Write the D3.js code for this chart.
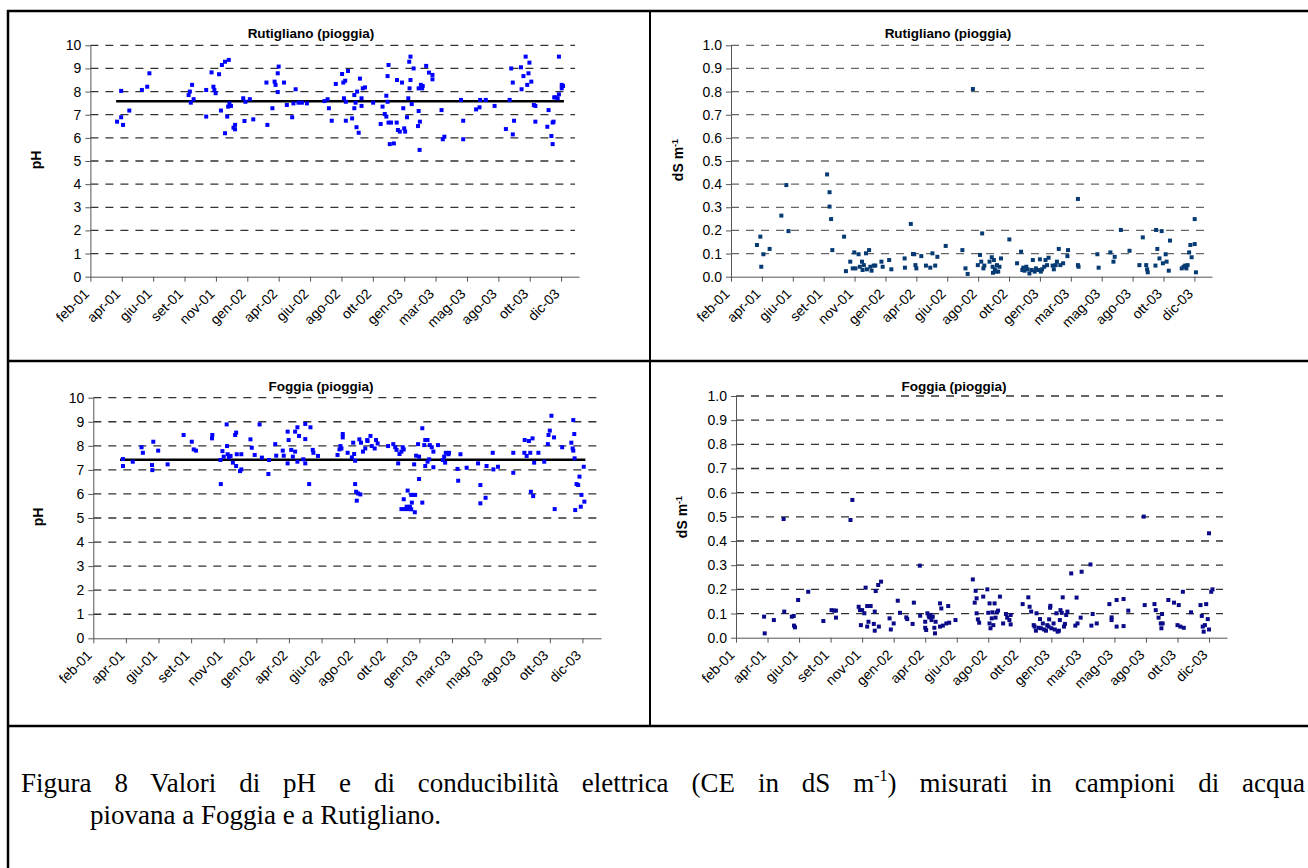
<!DOCTYPE html>
<html>
<head>
<meta charset="utf-8">
<script src="https://d3js.org/d3.v7.min.js"></script>
<style>
  body { margin: 0; background: #fff; }
  svg { display: block; }
  .axis text { font-family: "Liberation Sans", Arial, sans-serif; font-size: 14px; fill: #000; }
  .axis path, .axis line { stroke: #555; }
  .title { font-family: "Liberation Sans", Arial, sans-serif; font-weight: bold; font-size: 13.5px; }
  .ylab { font-family: "Liberation Sans", Arial, sans-serif; font-weight: bold; font-size: 14px; }
  .caption { font-family: "Liberation Serif", "Times New Roman", serif; font-size: 27px; }
</style>
</head>
<body>
<script>
// tick labels on the x axis (one every 2-3 months)
var monthLabels = ["feb-01","apr-01","giu-01","set-01","nov-01","gen-02","apr-02","giu-02",
                   "ago-02","ott-02","gen-03","mar-03","mag-03","ago-03","ott-03","dic-03"];
var phTicks = [0,1,2,3,4,5,6,7,8,9,10];
var ceTicks = [0,0.1,0.2,0.3,0.4,0.5,0.6,0.7,0.8,0.9,1.0];

// samples: [position along the x axis in tick units, value]
var rutiglianoPH = [
 [0.85,6.70],[0.98,6.89],[0.98,8.03],[1.04,6.56],[1.24,7.18],[1.64,8.07],[1.81,8.21],[1.88,8.79],
 [3.13,7.85],[3.17,8.00],[3.20,7.52],[3.24,8.29],[3.29,7.67],[3.69,8.07],[3.69,6.92],[3.86,8.83],
 [3.92,8.21],[3.95,8.07],[3.99,7.93],[4.10,8.75],[4.16,7.18],[4.19,9.15],[4.29,9.29],[4.29,6.20],
 [4.36,6.92],[4.41,9.37],[4.39,7.35],[4.43,7.49],[4.48,7.38],[4.56,6.44],[4.61,6.56],[4.61,6.37],
 [4.87,7.71],[4.91,6.73],[4.94,7.56],[5.08,7.67],[5.19,6.80],[5.61,8.39],[5.64,6.56],[5.80,7.28],
 [5.87,8.43],[5.90,8.29],[5.97,8.79],[6.00,9.08],[5.97,7.98],[6.17,8.39],[6.26,7.42],[6.43,6.89],
 [6.47,7.49],[6.54,8.10],[6.63,7.52],[6.74,7.52],[6.90,7.49],[7.46,7.59],[7.56,7.67],[7.60,7.28],
 [7.69,6.74],[7.82,8.33],[8.02,8.76],[8.06,8.39],[8.08,7.71],[8.12,8.47],[8.14,7.56],[8.14,6.74],
 [8.21,8.89],[8.34,6.84],[8.41,7.28],[8.41,7.85],[8.45,7.52],[8.48,6.46],[8.50,8.00],[8.55,6.22],
 [8.59,8.56],[8.64,7.38],[8.64,7.71],[8.68,8.14],[8.75,8.18],[9.01,7.52],[9.25,6.60],[9.31,7.35],
 [9.38,7.03],[9.43,7.82],[9.43,6.92],[9.47,8.67],[9.50,9.15],[9.47,7.56],[9.50,6.66],[9.54,5.73],
 [9.58,6.66],[9.67,5.76],[9.77,8.50],[9.76,6.66],[9.80,6.34],[9.86,6.27],[9.93,8.39],[9.97,7.28],
 [10.00,6.41],[10.03,6.27],[10.09,6.89],[10.13,7.71],[10.16,9.29],[10.20,9.51],[10.17,8.14],[10.20,8.50],
 [10.24,7.46],[10.30,9.00],[10.44,6.51],[10.46,8.14],[10.46,7.16],[10.50,6.70],[10.49,5.48],[10.53,8.29],
 [10.57,8.14],[10.59,8.24],[10.70,9.11],[10.79,8.82],[10.90,8.72],[10.90,8.53],[11.19,7.20],[11.23,5.94],
 [11.28,6.05],[11.81,7.64],[11.88,6.74],[11.88,5.94],[12.29,7.23],[12.40,7.32],[12.42,7.64],[12.60,7.64],
 [12.88,7.38],[13.24,6.38],[13.36,7.64],[13.41,9.00],[13.46,8.39],[13.46,6.15],[13.50,6.74],[13.72,9.05],
 [13.74,8.10],[13.80,8.67],[13.87,9.51],[13.92,8.29],[13.96,8.79],[13.99,9.25],[14.05,8.43],[14.13,7.42],
 [14.18,7.38],[14.18,6.70],[14.56,6.48],[14.60,7.20],[14.69,6.08],[14.73,5.73],[14.73,6.66],[14.76,6.70],
 [14.78,7.75],[14.82,7.75],[14.89,7.71],[14.93,7.88],[14.93,9.51],[15.02,8.14],[15.02,8.29],[15.06,8.24]
];

var rutiglianoCE = [
 [0.84,0.137],[0.95,0.173],[0.98,0.043],[1.05,0.097],[1.25,0.120],[1.63,0.264],[1.79,0.396],[1.86,0.197],
 [3.11,0.442],[3.19,0.365],[3.19,0.303],[3.24,0.249],[3.28,0.115],[3.66,0.173],[3.72,0.024],[3.86,0.065],
 [3.94,0.036],[3.99,0.105],[4.03,0.036],[4.13,0.097],[4.17,0.043],[4.24,0.065],[4.26,0.029],[4.30,0.050],
 [4.37,0.101],[4.40,0.032],[4.47,0.115],[4.51,0.043],[4.55,0.026],[4.62,0.048],[4.67,0.048],[4.87,0.065],
 [4.91,0.043],[5.12,0.072],[5.19,0.032],[5.62,0.079],[5.63,0.039],[5.82,0.228],[5.89,0.098],[5.93,0.097],
 [5.97,0.050],[6.00,0.036],[6.16,0.089],[6.31,0.048],[6.45,0.039],[6.52,0.101],[6.61,0.048],[6.68,0.086],
 [6.95,0.133],[7.49,0.115],[7.59,0.036],[7.66,0.012],[7.83,0.811],[7.99,0.050],[8.06,0.094],[8.10,0.065],
 [8.13,0.187],[8.17,0.036],[8.20,0.048],[8.37,0.065],[8.44,0.084],[8.47,0.043],[8.48,0.017],[8.51,0.072],
 [8.54,0.032],[8.58,0.022],[8.61,0.050],[8.65,0.022],[8.69,0.043],[8.74,0.079],[9.01,0.161],[9.26,0.058],
 [9.39,0.108],[9.43,0.029],[9.46,0.039],[9.50,0.026],[9.56,0.043],[9.60,0.032],[9.66,0.014],[9.73,0.029],
 [9.77,0.072],[9.83,0.022],[9.87,0.036],[9.94,0.029],[10.00,0.075],[10.03,0.022],[10.07,0.032],[10.14,0.043],
 [10.18,0.072],[10.23,0.050],[10.28,0.082],[10.41,0.048],[10.45,0.032],[10.51,0.050],[10.55,0.065],[10.61,0.120],
 [10.66,0.050],[10.75,0.058],[10.89,0.089],[10.91,0.115],[11.23,0.336],[11.23,0.050],[11.25,0.043],[11.86,0.097],
 [11.90,0.039],[12.28,0.105],[12.38,0.065],[12.42,0.086],[12.62,0.202],[12.90,0.112],[13.22,0.050],[13.33,0.170],
 [13.44,0.050],[13.47,0.032],[13.49,0.019],[13.74,0.048],[13.76,0.202],[13.80,0.120],[13.87,0.079],[13.94,0.197],
 [13.98,0.058],[14.07,0.097],[14.10,0.065],[14.17,0.026],[14.21,0.156],[14.59,0.036],[14.65,0.043],[14.70,0.048],
 [14.74,0.036],[14.78,0.050],[14.83,0.105],[14.87,0.137],[14.91,0.084],[15.01,0.141],[15.01,0.249],[15.05,0.019]
];

var foggiaPH = [
 [0.91,7.45],[0.91,7.16],[1.21,7.34],[1.48,7.94],[1.52,7.71],[1.80,7.20],[1.81,6.99],[1.84,8.17],
 [1.99,7.80],[2.28,7.23],[2.77,8.45],[3.02,8.17],[3.08,7.85],[3.15,7.80],[3.64,8.31],[3.65,8.45],
 [3.90,7.41],[3.91,6.41],[3.96,7.78],[4.00,7.55],[4.09,8.89],[4.10,7.99],[4.12,7.65],[4.16,7.52],
 [4.21,7.58],[4.28,7.30],[4.35,8.45],[4.38,8.55],[4.38,7.16],[4.40,7.65],[4.50,6.95],[4.54,7.02],
 [4.54,7.65],[4.82,8.27],[4.86,7.92],[4.95,7.62],[5.10,8.89],[5.17,7.51],[5.37,6.83],[5.39,7.41],
 [5.58,8.07],[5.61,7.59],[5.81,7.80],[5.84,7.59],[5.96,8.59],[5.99,8.24],[5.96,7.27],[6.07,7.83],
 [6.12,7.55],[6.19,8.59],[6.19,7.76],[6.26,8.77],[6.26,7.34],[6.31,8.41],[6.44,7.44],[6.50,8.91],
 [6.50,8.28],[6.50,7.27],[6.62,6.41],[6.66,8.77],[6.73,7.83],[6.75,7.71],[6.89,7.58],[7.49,7.62],
 [7.55,7.85],[7.58,7.99],[7.61,7.89],[7.65,8.49],[7.65,8.35],[7.80,7.71],[7.93,7.52],[7.97,8.13],
 [8.00,7.66],[8.03,7.38],[8.03,6.41],[8.06,6.09],[8.08,5.72],[8.12,6.02],[8.19,5.98],[8.16,8.27],
 [8.21,8.13],[8.27,7.76],[8.34,7.89],[8.40,8.24],[8.41,8.20],[8.50,8.41],[8.54,7.99],[8.63,7.89],
 [8.67,8.24],[8.72,8.10],[9.04,7.99],[9.20,8.07],[9.26,7.94],[9.30,7.83],[9.35,7.27],[9.39,7.66],
 [9.45,7.76],[9.49,7.94],[9.52,7.85],[9.45,5.37],[9.52,5.78],[9.56,5.37],[9.61,5.47],[9.64,5.37],
 [9.64,6.14],[9.71,5.47],[9.75,5.96],[9.77,5.64],[9.75,5.36],[9.80,5.96],[9.84,7.23],[9.86,5.24],
 [9.87,5.96],[9.90,7.59],[9.96,8.07],[9.99,7.55],[9.99,6.62],[10.09,8.73],[10.09,5.64],[10.15,8.03],
 [10.18,8.24],[10.18,7.16],[10.25,7.34],[10.25,8.24],[10.30,7.44],[10.32,8.03],[10.38,7.94],[10.43,7.76],
 [10.43,7.11],[10.57,8.03],[10.72,7.41],[10.76,7.55],[10.79,7.30],[10.81,7.71],[10.89,7.65],[10.91,7.71],
 [11.17,7.04],[11.19,6.55],[11.26,7.65],[11.45,7.09],[11.80,7.27],[11.87,6.37],[11.87,5.61],[12.03,5.84],
 [12.06,7.16],[12.25,7.71],[12.27,7.02],[12.41,7.13],[12.88,7.71],[12.88,6.88],[13.22,7.71],[13.23,8.24],
 [13.29,7.58],[13.36,8.20],[13.40,7.71],[13.47,8.31],[13.42,6.09],[13.49,5.91],[13.52,7.30],[13.65,7.71],
 [13.83,7.34],[13.94,8.07],[13.96,8.45],[14.00,8.63],[14.13,8.35],[14.15,5.37],[14.05,9.25],[14.38,7.94],
 [14.66,8.13],[14.72,9.07],[14.70,7.89],[14.72,7.80],[14.75,8.49],[14.76,7.48],[14.78,5.33],[14.82,6.41],
 [14.87,6.37],[14.91,6.72],[14.95,5.47],[14.97,5.96],[15.04,7.13],[15.06,5.68]
];

var foggiaCE = [
 [0.89,0.087],[0.91,0.018],[1.20,0.073],[1.51,0.491],[1.53,0.108],[1.77,0.087],[1.83,0.090],[1.84,0.050],
 [1.87,0.043],[1.97,0.156],[2.29,0.190],[2.77,0.069],[3.03,0.114],[3.11,0.112],[3.17,0.083],[3.17,0.112],
 [3.63,0.487],[3.69,0.570],[3.89,0.128],[3.93,0.114],[3.96,0.052],[4.00,0.114],[4.07,0.101],[4.11,0.207],
 [4.16,0.131],[4.16,0.046],[4.20,0.066],[4.27,0.131],[4.37,0.057],[4.40,0.108],[4.40,0.029],[4.43,0.193],
 [4.51,0.218],[4.53,0.046],[4.60,0.232],[4.87,0.080],[4.91,0.034],[5.00,0.059],[5.13,0.153],[5.20,0.103],
 [5.40,0.084],[5.43,0.077],[5.60,0.057],[5.64,0.145],[5.83,0.298],[5.84,0.091],[6.00,0.041],[6.03,0.032],
 [6.00,0.066],[6.07,0.101],[6.11,0.091],[6.13,0.084],[6.17,0.094],[6.20,0.073],[6.24,0.087],[6.29,0.041],
 [6.31,0.018],[6.33,0.066],[6.47,0.046],[6.47,0.142],[6.51,0.121],[6.56,0.050],[6.67,0.059],[6.73,0.131],
 [6.76,0.062],[6.96,0.073],[7.51,0.241],[7.57,0.145],[7.60,0.194],[7.63,0.163],[7.63,0.101],[7.67,0.076],
 [7.71,0.062],[7.84,0.170],[7.97,0.200],[8.00,0.103],[8.04,0.142],[8.04,0.059],[8.07,0.039],[8.11,0.080],
 [8.13,0.105],[8.16,0.052],[8.20,0.142],[8.23,0.083],[8.27,0.105],[8.31,0.112],[8.37,0.170],[8.47,0.059],
 [8.56,0.098],[8.60,0.083],[8.67,0.073],[8.71,0.094],[8.71,0.055],[9.09,0.139],[9.27,0.167],[9.31,0.128],
 [9.36,0.108],[9.44,0.052],[9.47,0.046],[9.51,0.029],[9.53,0.101],[9.60,0.041],[9.64,0.077],[9.67,0.039],
 [9.73,0.059],[9.77,0.034],[9.83,0.029],[9.87,0.052],[9.91,0.046],[9.93,0.076],[9.96,0.124],[9.97,0.132],
 [10.00,0.039],[10.07,0.059],[10.11,0.034],[10.16,0.101],[10.20,0.025],[10.24,0.029],[10.27,0.073],[10.29,0.114],
 [10.33,0.103],[10.36,0.167],[10.40,0.046],[10.43,0.057],[10.47,0.094],[10.51,0.108],[10.63,0.266],[10.76,0.050],
 [10.80,0.166],[10.83,0.059],[10.93,0.083],[10.96,0.273],[11.24,0.303],[11.27,0.050],[11.31,0.098],[11.44,0.059],
 [11.84,0.139],[11.91,0.084],[11.91,0.073],[12.07,0.156],[12.07,0.046],[12.29,0.160],[12.29,0.048],[12.44,0.112],
 [12.93,0.501],[12.96,0.135],[13.27,0.139],[13.31,0.114],[13.40,0.083],[13.47,0.059],[13.49,0.039],[13.51,0.098],
 [13.53,0.059],[13.71,0.156],[13.89,0.145],[14.00,0.052],[14.04,0.135],[14.09,0.046],[14.17,0.190],[14.20,0.041],
 [14.43,0.105],[14.73,0.135],[14.77,0.090],[14.80,0.046],[14.83,0.025],[14.87,0.052],[14.91,0.139],[14.96,0.077],
 [15.00,0.432],[15.00,0.034],[15.07,0.190],[15.11,0.200]
];

// mean pH drawn as a flat line over the sampling period
var rutiglianoMeanPH = 7.58;
var foggiaMeanPH = 7.42;
var meanSpan = [0.82, 15.09];
var xMax = 15.57;

var svg = d3.select("body").append("svg")
    .attr("width", 1308)
    .attr("height", 868);

// frame of the figure
var frame = svg.append("g").attr("stroke", "#000").attr("fill", "none");
frame.append("line").attr("x1", 8).attr("x2", 8).attr("y1", 10).attr("y2", 868).attr("stroke-width", 2.5);
frame.append("line").attr("x1", 7).attr("x2", 1308).attr("y1", 11).attr("y2", 11).attr("stroke-width", 2.5);
frame.append("line").attr("x1", 650).attr("x2", 650).attr("y1", 11).attr("y2", 726).attr("stroke-width", 2);
frame.append("line").attr("x1", 7).attr("x2", 1308).attr("y1", 361).attr("y2", 361).attr("stroke-width", 2.5);
frame.append("line").attr("x1", 7).attr("x2", 1308).attr("y1", 726).attr("y2", 726).attr("stroke-width", 2.5);

var panels = [
  {title: "Rutigliano (pioggia)", data: rutiglianoPH, mean: rutiglianoMeanPH, ticks: phTicks, fmt: d3.format("d"),
   max: 10, ph: true, left: 90.4, right: 579, top: 45.3, bottom: 276.7, titleX: 311, titleY: 38,
   labX: 41, labY: 160, color: "#0000ff", grid: "#333"},
  {title: "Rutigliano (pioggia)", data: rutiglianoCE, ticks: ceTicks, fmt: d3.format(".1f"),
   max: 1, ph: false, left: 731, right: 1212, top: 45.3, bottom: 276.7, titleX: 948, titleY: 38,
   labX: 683, labY: 160, color: "#063a73", grid: "#666"},
  {title: "Foggia (pioggia)", data: foggiaPH, mean: foggiaMeanPH, ticks: phTicks, fmt: d3.format("d"),
   max: 10, ph: true, left: 93.3, right: 601, top: 397.7, bottom: 638.3, titleX: 321, titleY: 391,
   labX: 43, labY: 517, color: "#0000ff", grid: "#333"},
  {title: "Foggia (pioggia)", data: foggiaCE, ticks: ceTicks, fmt: d3.format(".1f"),
   max: 1, ph: false, left: 736, right: 1227, top: 396, bottom: 637.7, titleX: 954, titleY: 391,
   labX: 687, labY: 517, color: "#0a0a88", grid: "#333"}
];

panels.forEach(function(p) {
  var g = svg.append("g");
  var x = d3.scaleLinear().domain([0, xMax]).range([p.left, p.right]);
  var y = d3.scaleLinear().domain([0, p.max]).range([p.bottom, p.top]);

  // dashed horizontal gridlines
  g.selectAll(".grid")
    .data(p.ticks.slice(1))
    .enter().append("line")
    .attr("x1", p.left).attr("x2", p.right - 4)
    .attr("y1", function(d) { return y(d); })
    .attr("y2", function(d) { return y(d); })
    .attr("stroke", p.grid)
    .attr("stroke-width", 1.3)
    .attr("stroke-dasharray", "8,7");

  // x axis
  var xa = g.append("g")
    .attr("class", "axis")
    .attr("transform", "translate(0," + p.bottom + ")")
    .call(d3.axisBottom(x).tickValues(d3.range(monthLabels.length)).tickSize(5).tickSizeOuter(0)
      .tickFormat(function(i) { return monthLabels[i]; }));
  xa.selectAll("text")
    .attr("x", 0).attr("y", 0).attr("dy", 0)
    .attr("text-anchor", "end")
    .attr("transform", "translate(-1,18) rotate(-45)");

  // y axis
  g.append("g")
    .attr("class", "axis")
    .attr("transform", "translate(" + p.left + ",0)")
    .call(d3.axisLeft(y).tickValues(p.ticks).tickSize(5).tickSizeOuter(0).tickFormat(p.fmt))
    .selectAll("text").attr("x", -9);

  // mean line
  if (p.ph) {
    g.append("line")
      .attr("x1", x(meanSpan[0])).attr("x2", x(meanSpan[1]))
      .attr("y1", y(p.mean)).attr("y2", y(p.mean))
      .attr("stroke", "#000").attr("stroke-width", 2.5);
  }

  // samples
  g.selectAll(".pt")
    .data(p.data)
    .enter().append("rect")
    .attr("x", function(d) { return x(d[0]) - 2; })
    .attr("y", function(d) { return y(d[1]) - 2; })
    .attr("width", 4).attr("height", 4)
    .attr("fill", p.color);

  g.append("text")
    .attr("class", "title")
    .attr("x", p.titleX).attr("y", p.titleY)
    .attr("text-anchor", "middle")
    .text(p.title);

  var lab = g.append("text")
    .attr("class", "ylab")
    .attr("transform", "translate(" + p.labX + "," + p.labY + ") rotate(-90)")
    .attr("text-anchor", "middle");
  if (p.ph) {
    lab.text("pH");
  } else {
    lab.append("tspan").text("dS m");
    lab.append("tspan").attr("dy", -5).style("font-size", "9px").text("-1");
  }
});

// caption, first line justified across the box
var cap1 = svg.append("text")
  .attr("class", "caption")
  .attr("x", 21).attr("y", 792);
cap1.append("tspan").text("Figura 8 Valori di pH e di conducibilità elettrica (CE in dS m");
cap1.append("tspan").attr("dy", -11).style("font-size", "16px").text("-1");
cap1.append("tspan").attr("dy", 11).text(") misurati in campioni di acqua");
var natural = cap1.node().getComputedTextLength();
cap1.attr("word-spacing", ((1305 - 21) - natural) / 17);

svg.append("text")
  .attr("class", "caption")
  .attr("x", 90).attr("y", 824)
  .text("piovana a Foggia e a Rutigliano.");
</script>
</body>
</html>
